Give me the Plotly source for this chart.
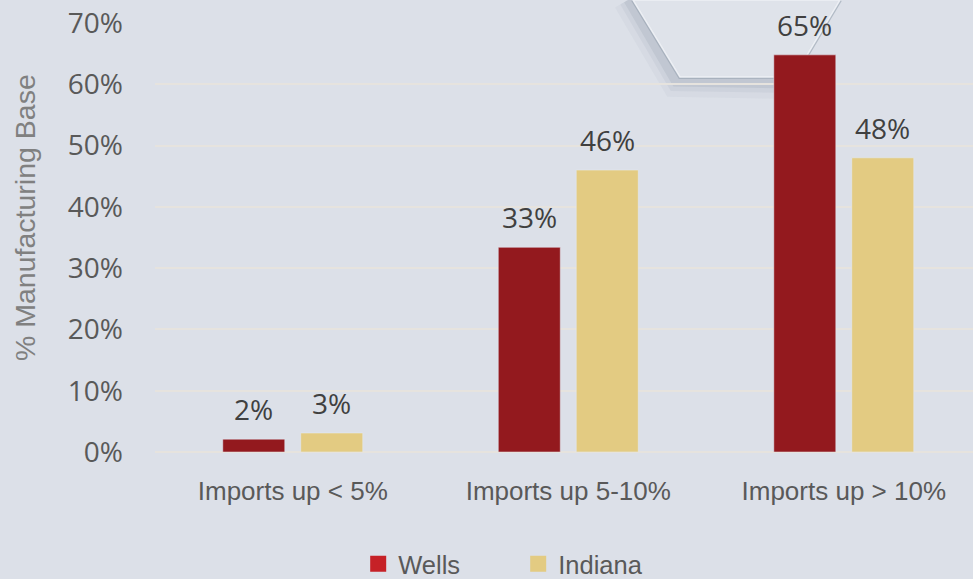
import plotly.graph_objects as go

categories = ["Imports up < 5%", "Imports up 5-10%", "Imports up > 10%"]
wells = [2.1, 33.4, 64.8]
indiana = [3.1, 46.0, 48.0]
y_ticks = [0, 10, 20, 30, 40, 50, 60, 70]
y_tick_labels = [f"{t}%" for t in y_ticks]

BG = "#dce0e8"
WELLS_BAR = "#93191e"
WELLS_KEY = "#c62127"
INDIANA = "#e3cb82"
NARROW = "Liberation Sans, Arial, sans-serif"
SANS = "Open Sans, sans-serif"

fig = go.Figure()
fig.add_trace(go.Bar(x=categories, y=wells, name="Wells", marker_color=WELLS_BAR,
                     showlegend=False))
fig.add_trace(go.Bar(x=categories, y=indiana, name="Indiana", marker_color=INDIANA,
                     showlegend=False))

# legend keys (swatch colours differ slightly from the bars)
fig.add_trace(go.Scatter(x=[None], y=[None], mode="markers", name="Wells",
                         marker=dict(symbol="square", size=17, color=WELLS_KEY)))
fig.add_trace(go.Scatter(x=[None], y=[None], mode="markers", name="Indiana",
                         marker=dict(symbol="square", size=17, color=INDIANA)))

# value labels above the bars
for vals, shift in ((wells, -39), (indiana, 39)):
    for cat, v in zip(categories, vals):
        fig.add_annotation(x=cat, y=v, text=f"{v:.0f}%", showarrow=False,
                           xshift=shift, yshift=9, yanchor="bottom",
                           font=dict(family=SANS, size=28, color="#404040"))


def px(x, y):
    # pixel position -> paper coords (plot area is 155..973 x 23..452)
    return (x - 155) / 818, (452 - y) / 429


# y axis title
tx, ty = px(25, 218)
fig.add_annotation(x=tx, y=ty, xref="paper", yref="paper", text="% Manufacturing Base",
                   textangle=-90, showarrow=False, xanchor="center", yanchor="middle",
                   font=dict(family=NARROW, size=28.5, color="#808080"))

# decorative notch in the background (top right)
pts = [px(633, 0), px(680, 77), px(794, 77), px(840, 0)]
path = "M " + " L ".join(f"{a},{b}" for a, b in pts)
shadow = [px(628, 0), px(676, 82), px(794, 84), px(800, 80)]
spath = "M " + " L ".join(f"{a},{b}" for a, b in shadow)
for w, c in ((30, "rgba(120,135,150,0.06)"), (18, "rgba(120,135,150,0.09)"),
             (9, "rgba(120,135,150,0.14)")):
    fig.add_shape(type="path", path=spath, xref="paper", yref="paper", layer="below",
                  line=dict(color=c, width=w))
fig.add_shape(type="path", path=path, xref="paper", yref="paper", layer="below",
              line=dict(color="rgba(150,162,175,0.6)", width=4))
fig.add_shape(type="path", path=path + " Z", xref="paper", yref="paper", layer="below",
              fillcolor="#dfe3ea", line=dict(color="rgba(240,242,246,0.9)", width=1.5))

fig.update_layout(
    width=973, height=579,
    paper_bgcolor=BG, plot_bgcolor="rgba(0,0,0,0)",
    margin=dict(l=155, r=0, t=23, b=127, autoexpand=False),
    barmode="group", bargap=0.434, bargroupgap=0.205,
    showlegend=True,
    legend=dict(orientation="h", x=0.444, xanchor="center", y=-0.2613, yanchor="middle",
                font=dict(family=NARROW, size=25.5, color="#595959"),
                bgcolor="rgba(0,0,0,0)", entrywidth=115, itemclick=False,
                borderwidth=0),
    xaxis=dict(range=[-0.5, 2.469], showgrid=False, zeroline=False, showline=False,
               ticks="", ticklabelstandoff=21,
               tickfont=dict(family=NARROW, size=26, color="#595959")),
    yaxis=dict(range=[0, 70], tickvals=y_ticks, ticktext=y_tick_labels,
               showgrid=True, gridcolor="#e6e3de", gridwidth=2,
               zeroline=True, zerolinecolor="#e6e3de", zerolinewidth=2,
               showline=False, ticks="", ticklabelstandoff=31,
               tickfont=dict(family=SANS, size=28, color="#595959")),
)

fig.write_html("out.html", config={"displayModeBar": False},
               post_script="document.body.style.margin='0';")
